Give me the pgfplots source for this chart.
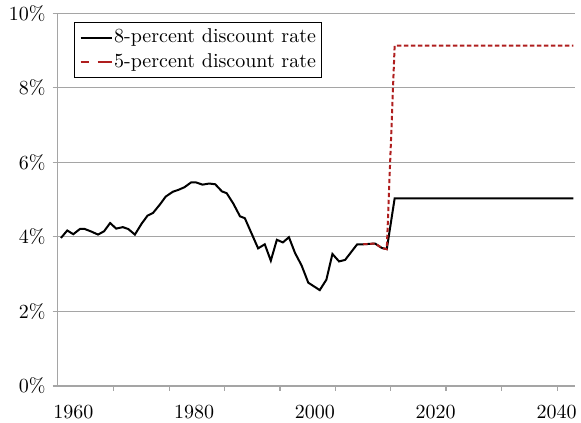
\documentclass[border=0pt]{standalone}
\usepackage{pgfplots}
\pgfplotsset{compat=1.18}
\definecolor{rate5}{RGB}{175,30,30}
\definecolor{gridgray}{RGB}{165,165,165}
\begin{document}
\begin{tikzpicture}
\begin{axis}[
    at={(0,0)}, anchor=south west,
    scale only axis,
    width=258.65pt, height=186.35pt,
    xmin=1957.42, xmax=2043.06,
    ymin=0, ymax=10,
    axis x line*=bottom, axis y line*=left,
    axis line style={gridgray, line width=0.6pt},
    xtick={1960,1980,2000,2020,2040},
    xticklabels={1960,1980,2000,2020,2040},
    minor xtick={1966.62,1975.89,1985.0,1994.22,2003.38,2012.48,2021.7,2030.86,2040.13},
    major x tick style={draw=none},
    minor x tick style={gridgray, line width=0.6pt},
    ytick={0,2,4,6,8,10},
    yticklabels={0\%,2\%,4\%,6\%,8\%,10\%},
    y tick style={gridgray, line width=0.6pt},
    tick align=outside,
    major tick length=2.5pt, minor tick length=2.5pt,
    ymajorgrids,
    major grid style={gridgray, line width=0.6pt},
    xticklabel style={yshift=-3.5pt},
    legend style={at={(0.0315,0.9775)}, anchor=north west,
      draw=black, line width=0.5pt, inner xsep=2.6pt, inner ysep=1.5pt,
      nodes={inner xsep=0.4pt, inner ysep=2pt}, cells={anchor=west}},
    legend image code/.code={\draw[#1] (0pt,0pt) -- (15.8pt,0pt);},
]
% 8-percent discount rate
\addplot[black, line width=1pt] coordinates {
  (1957.96,3.97) (1959.0,4.17) (1960.0,4.07) (1961.1,4.21) (1961.9,4.21)
  (1963.0,4.14) (1964.1,4.06) (1965.1,4.15) (1966.1,4.37) (1967.1,4.22)
  (1968.2,4.26) (1969.1,4.21) (1970.2,4.06) (1971.3,4.35) (1972.3,4.57)
  (1973.2,4.64) (1974.4,4.88) (1975.3,5.08) (1976.5,5.21) (1977.4,5.26)
  (1978.4,5.33) (1979.5,5.46) (1980.3,5.46) (1981.4,5.40) (1982.5,5.43)
  (1983.5,5.41) (1984.6,5.22) (1985.4,5.17) (1986.5,4.89) (1987.6,4.55)
  (1988.4,4.50) (1990.6,3.69) (1991.7,3.80) (1992.7,3.36) (1993.7,3.92)
  (1994.7,3.85) (1995.7,3.99) (1996.7,3.57) (1997.8,3.23) (1998.9,2.77)
  (2000.8,2.57) (2001.9,2.85) (2002.9,3.54) (2004.0,3.34) (2005.0,3.38)
  (2007.0,3.80) (2008.0,3.80) (2009.95,3.82) (2011.1,3.70) (2011.9,3.67)
  (2013.2,5.03) (2042.8,5.03)
};
\addlegendentry{8-percent discount rate\hspace{4pt}}
% 5-percent discount rate
\addplot[rate5, line width=1pt, dash pattern=on 2.2pt off 1.3pt,
    legend image post style={dash pattern=on 4pt off 4.5pt on 8pt off 1pt}] coordinates {
  (2008.0,3.80) (2009.95,3.82) (2011.1,3.70) (2011.9,3.67)
  (2013.2,9.13) (2042.8,9.13)
};
\addlegendentry{5-percent discount rate\hspace{4pt}}
\end{axis}
\pgfresetboundingbox
\path[use as bounding box] (-28.85pt,-18.5pt) rectangle (261.65pt,192.95pt);
\end{tikzpicture}
\end{document}
